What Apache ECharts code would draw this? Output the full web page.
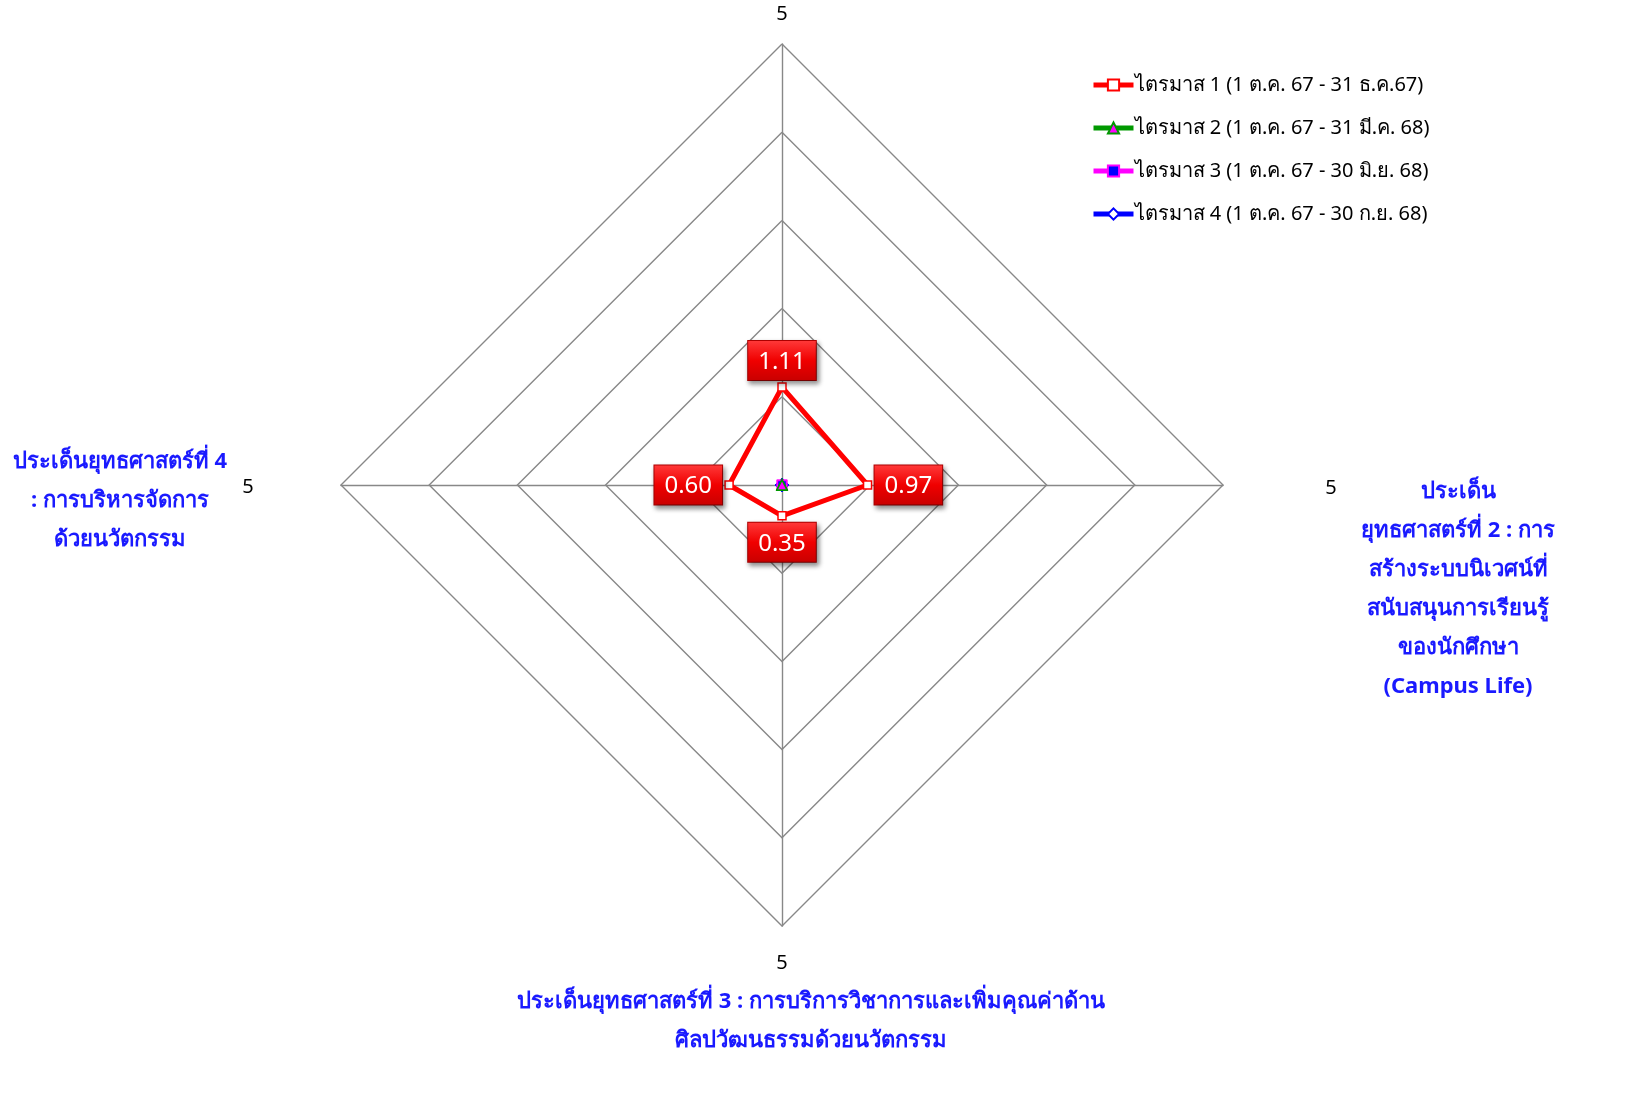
<!DOCTYPE html>
<html><head><meta charset="utf-8">
<script src="https://cdn.jsdelivr.net/npm/echarts@6/dist/echarts.min.js"></script>
<style>html,body{margin:0;padding:0;background:#fff}#c{width:1646px;height:1103px}</style>
</head><body><div id="c"></div>
<script>
// Axes in Excel order: top, right, bottom, left
var axisNames = ['',
  'ประเด็น\nยุทธศาสตร์ที่ 2 : การ\nสร้างระบบนิเวศน์ที่\nสนับสนุนการเรียนรู้\nของนักศึกษา\n(Campus Life)',
  'ประเด็นยุทธศาสตร์ที่ 3 : การบริการวิชาการและเพิ่มคุณค่าด้าน\nศิลปวัฒนธรรมด้วยนวัตกรรม',
  'ประเด็นยุทธศาสตร์ที่ 4\n: การบริหารจัดการ\nด้วยนวัตกรรม'];
var axisMax = 5;
var seriesNames = ['ไตรมาส 1 (1 ต.ค. 67 - 31 ธ.ค.67)', 'ไตรมาส 2 (1 ต.ค. 67 - 31 มี.ค. 68)', 'ไตรมาส 3 (1 ต.ค. 67 - 30 มิ.ย. 68)', 'ไตรมาส 4 (1 ต.ค. 67 - 30 ก.ย. 68)'];
var q1 = [1.11, 0.97, 0.35, 0.60];
var q2 = [0, 0, 0, 0];
var q3 = [0, 0, 0, 0];
var q4 = [0, 0, 0, 0];

// ECharts draws indicators counter-clockwise: top, left, bottom, right
var order = [0, 3, 2, 1];
function reorder(a){ return order.map(function(i){ return a[i]; }); }
var labelPos = ['top', 'left', 'bottom', 'right'];

var FONT = '"Noto Sans", Tahoma, sans-serif';
var chart = echarts.init(document.getElementById('c'));
var cx = 782, cy = 485, R = 441;

var styles = [
  {color: '#ff0000', symbol: 'rect', symbolSize: 8, legendSize: 9, fill: '#ffffff', border: '#ff0000'},
  {color: '#009900', symbol: 'triangle', symbolSize: 10, legendSize: 12, fill: '#ff00ff', border: '#009900'},
  {color: '#ff00ff', symbol: 'rect', symbolSize: 9, legendSize: 10, fill: '#0000ff', border: '#ff00ff'},
  {color: '#0000ff', symbol: 'diamond', symbolSize: 12, legendSize: 14, fill: '#ffffff', border: '#0000ff'}
];
var vals = [q1, q2, q3, q4];
var list = [];
// legend-icon carriers (empty line series sharing the names)
for (var s0 = 0; s0 < 4; s0++) {
  list.push({
    type: 'line', name: seriesNames[s0], xAxisIndex: 0, yAxisIndex: 0, data: [],
    symbol: styles[s0].symbol, symbolSize: styles[s0].legendSize,
    lineStyle: {color: styles[s0].color, width: 5},
    itemStyle: {color: styles[s0].fill, borderColor: styles[s0].border, borderWidth: 1.5}
  });
}
var centerFill = ['#ffffff', '#ff00ff', '#0000ff', '#0000ff'];
for (var s = 3; s >= 0; s--) {
  list.push({
    type: 'radar', name: seriesNames[s], z: 2 + (3 - s),
    symbol: styles[s].symbol, symbolSize: styles[s].symbolSize,
    lineStyle: {color: styles[s].color, width: 5},
    itemStyle: {color: centerFill[s], borderColor: styles[s].border, borderWidth: 1.5},
    data: [{name: seriesNames[s], value: reorder(vals[s])}]
  });
}
// label helper series for quarter 1 (one per axis so each label can sit outside its vertex)
for (var d = 0; d < 4; d++) {
  (function(dim){
    list.push({
      type: 'radar', name: 'lbl' + dim, z: 10, silent: true,
      symbol: 'circle', symbolSize: 6,
      lineStyle: {opacity: 0, width: 0},
      itemStyle: {color: 'rgba(0,0,0,0)', borderWidth: 0},
      label: {
        show: true, position: labelPos[dim], distance: 4,
        formatter: function(p){
          if (p.dimensionIndex !== dim) return '';
          var v = Array.isArray(p.value) ? p.value[dim] : p.value;
          return '{b|' + Number(v).toFixed(2) + '}';
        },
        rich: {
          b: {
            color: '#ffffff', fontSize: 24, fontFamily: FONT,
            backgroundColor: new echarts.graphic.LinearGradient(0, 0, 0, 1, [
              {offset: 0, color: '#ff3a3a'}, {offset: 0.5, color: '#f00000'}, {offset: 1, color: '#c80000'}]),
            borderColor: '#b00000', borderWidth: 1,
            padding: [9, 10, 6, 10],
            shadowColor: 'rgba(0,0,0,0.45)', shadowBlur: 5, shadowOffsetX: 2, shadowOffsetY: 3
          }
        }
      },
      data: [{value: reorder(q1)}]
    });
  })(d);
}

var graphics = [];
// "5" tick texts near each vertex
var fivePos = [[782, 14], [1331, 488], [782, 963], [248, 487]];
fivePos.forEach(function(p){
  graphics.push({type: 'text', x: p[0], y: p[1], style: {text: String(axisMax), font: '20px ' + FONT, fill: '#000', align: 'center', verticalAlign: 'middle'}});
});
var namePos = [null, [1458, 472], [811, 982], [120, 442]];
for (var i = 1; i < 4; i++) {
  graphics.push({type: 'text', x: namePos[i][0], y: namePos[i][1],
    style: {text: axisNames[i], font: 'bold 22px ' + FONT, fill: '#1a1aff', align: 'center', verticalAlign: 'top', lineHeight: 39}});
}

chart.setOption({
  backgroundColor: '#ffffff',
  animation: false,
  grid: {left: 0, top: 0, width: 1, height: 1, show: false},
  xAxis: {show: false, type: 'value'},
  yAxis: {show: false, type: 'value'},
  legend: {
    data: seriesNames.map(function(n){ return {name: n, lineStyle: {width: 5}}; }),
    orient: 'vertical', left: 1086, top: 70, itemGap: 23, itemWidth: 40, itemHeight: 14,
    textStyle: {fontSize: 20, fontFamily: FONT, color: '#000', padding: [0, 0, 0, -4]}
  },
  radar: {
    center: [cx, cy], radius: R, startAngle: 90, shape: 'polygon', splitNumber: 5,
    indicator: reorder(axisNames).map(function(){ return {name: '', max: axisMax, min: 0}; }),
    axisName: {show: false},
    axisLine: {lineStyle: {color: '#888888', width: 1.4}},
    splitLine: {lineStyle: {color: '#888888', width: 1.4}},
    splitArea: {show: false},
    axisTick: {show: false}, axisLabel: {show: false}
  },
  series: list,
  graphic: graphics
});
</script></body></html>
